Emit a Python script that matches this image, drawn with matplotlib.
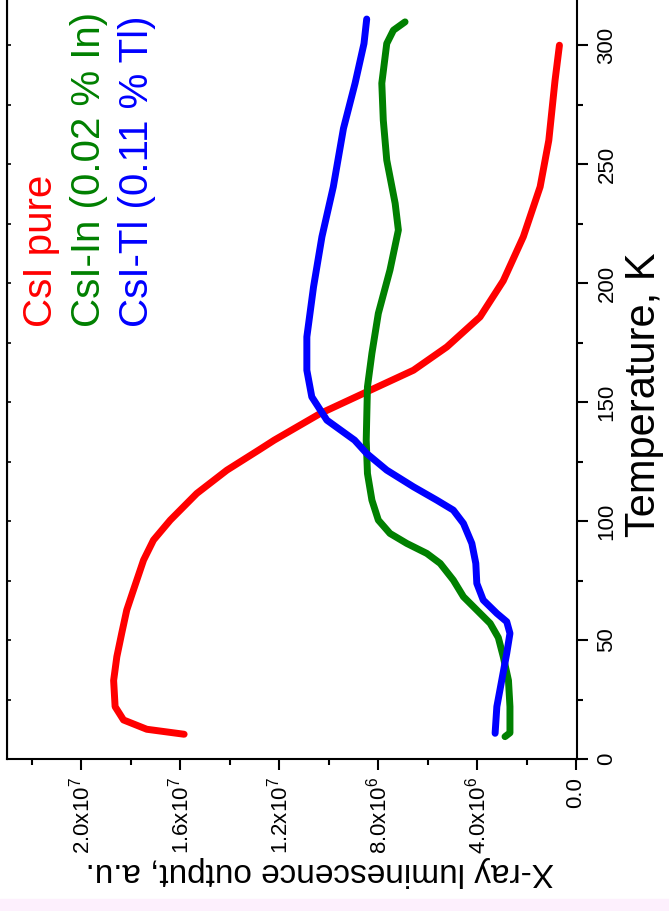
import numpy as np
import matplotlib
matplotlib.use("Agg")
import matplotlib.pyplot as plt
from matplotlib.ticker import MultipleLocator, FuncFormatter
from matplotlib.patches import Rectangle

plt.rcParams["font.family"] = ["Liberation Sans", "DejaVu Sans"]
plt.rcParams["mathtext.fontset"] = "custom"
plt.rcParams["mathtext.rm"] = "Liberation Sans"
plt.rcParams["mathtext.it"] = "Liberation Sans"

# temperature (K) and X-ray luminescence output (units of 1e6 a.u.)
t_pure = [10.4, 12.5, 16.4, 22, 33, 43, 53, 62.6, 71, 83.6, 92, 100.4, 111.6,
          121.4, 130, 134, 145.2, 154.3, 163.4, 173.2, 185.8, 201, 219.5,
          240.5, 260, 268, 285, 300]
l_pure = [15.84, 17.35, 18.29, 18.63, 18.69, 18.56, 18.36, 18.16, 17.89, 17.48,
          17.08, 16.40, 15.33, 14.11, 12.8, 12.2, 10.34, 8.46, 6.57, 5.22,
          3.88, 2.94, 2.13, 1.45, 1.1, 1.02, 0.85, 0.67]

t_in = [9.4, 11, 22, 33, 43, 51, 57, 62.6, 68.2, 75.2, 82.2, 86.4, 90.6, 94.8,
        100.4, 108.8, 120, 134, 156.4, 170.5, 187.3, 205.5, 222.3, 233.5,
        251.7, 268.5, 284, 300.7, 306.3, 309.8]
l_in = [2.87, 2.67, 2.67, 2.73, 2.94, 3.14, 3.47, 4.01, 4.55, 4.96, 5.49, 6.03,
        6.84, 7.52, 7.99, 8.25, 8.43, 8.48, 8.43, 8.25, 7.99, 7.52, 7.18, 7.31,
        7.65, 7.79, 7.85, 7.65, 7.38, 6.91]

t_tl = [10.8, 22, 33.2, 44.4, 52.8, 57.7, 61.2, 66.8, 73.8, 82.2, 90.6, 99,
        104.6, 108.8, 114.4, 121.4, 128.4, 134, 142.4, 152.2, 163.4, 177.4,
        198.4, 219.5, 240.5, 265, 284, 300.7, 311]
l_tl = [3.27, 3.20, 3.00, 2.80, 2.67, 2.80, 3.20, 3.75, 4.01, 4.05, 4.21, 4.55,
        4.96, 5.63, 6.57, 7.65, 8.46, 8.95, 10.07, 10.68, 10.88, 10.88, 10.61,
        10.27, 9.81, 9.40, 8.93, 8.57, 8.46]

labels = ["CsI pure", "CsI-In (0.02 % In)", "CsI-Tl (0.11 % Tl)"]
colors = ["#ff0000", "#008000", "#0000ff"]

W, H = 669, 911
fig = plt.figure(figsize=(W / 100, H / 100), dpi=100)
fig.patches.append(Rectangle((0, 0), 1, 12 / H, transform=fig.transFigure,
                             color="#fdf0fd", zorder=-1))

# the whole chart is turned a quarter turn: temperature runs up the right side
ax = fig.add_axes([7 / W, 1 - 759 / H, 570 / W, 759 / H])
series = [(t_pure, l_pure), (t_in, l_in), (t_tl, l_tl)]
for (t, l), c in zip(series, colors):
    ax.plot(np.array(l) * 1e6, t, color=c, lw=5, solid_capstyle="round",
            solid_joinstyle="round")

ax.set_xlim(2.3e7, -0.04e6)
ax.set_ylim(0, 319)
ax.spines["top"].set_visible(False)
for s in ax.spines.values():
    s.set_linewidth(1.5)

ax.xaxis.set_major_locator(MultipleLocator(4e6))
ax.xaxis.set_minor_locator(MultipleLocator(2e6))
ax.yaxis.set_major_locator(MultipleLocator(50))
ax.yaxis.set_minor_locator(MultipleLocator(25))


def fmt(v, pos):
    if abs(v) < 1:
        return "0.0"
    if v < 0:
        return ""
    e = int(np.floor(np.log10(v)))
    return "%.1fx10$^{%d}$" % (v / 10 ** e, e)


ax.xaxis.set_major_formatter(FuncFormatter(fmt))
ax.tick_params(axis="both", which="both", direction="out", width=1.5)
ax.tick_params(axis="both", which="major", length=8)
ax.tick_params(axis="both", which="minor", length=4.5)
ax.tick_params(axis="x", labelsize=16, pad=5, labelrotation=90)
ax.tick_params(axis="y", left=False, right=True, which="both",
               labelleft=False, labelright=True, labelsize=16, pad=6)
for lab in ax.get_yticklabels():
    lab.set_rotation(90)
    lab.set_va("center")

sec = ax.secondary_yaxis("left")
sec.set_yticks(np.arange(0, 325, 25))
sec.tick_params(direction="in", length=3, width=1.2, labelleft=False)

ax.set_xlabel("X-ray luminescence output, a.u.", fontsize=24, rotation=180)
ax.xaxis.set_label_coords(0.549, -0.128)
ax.yaxis.set_label_position("right")
ax.set_ylabel("Temperature, K", fontsize=30, rotation=90)
ax.yaxis.set_label_coords(1.082, 0.48)

for i, (txt, c) in enumerate(zip(labels, colors)):
    fig.text((52 + 48 * i) / W, 1 - 327 / H, txt, color=c, fontsize=29,
             rotation=90, rotation_mode="anchor", ha="left", va="baseline")

fig.savefig("out.png", dpi=100)
